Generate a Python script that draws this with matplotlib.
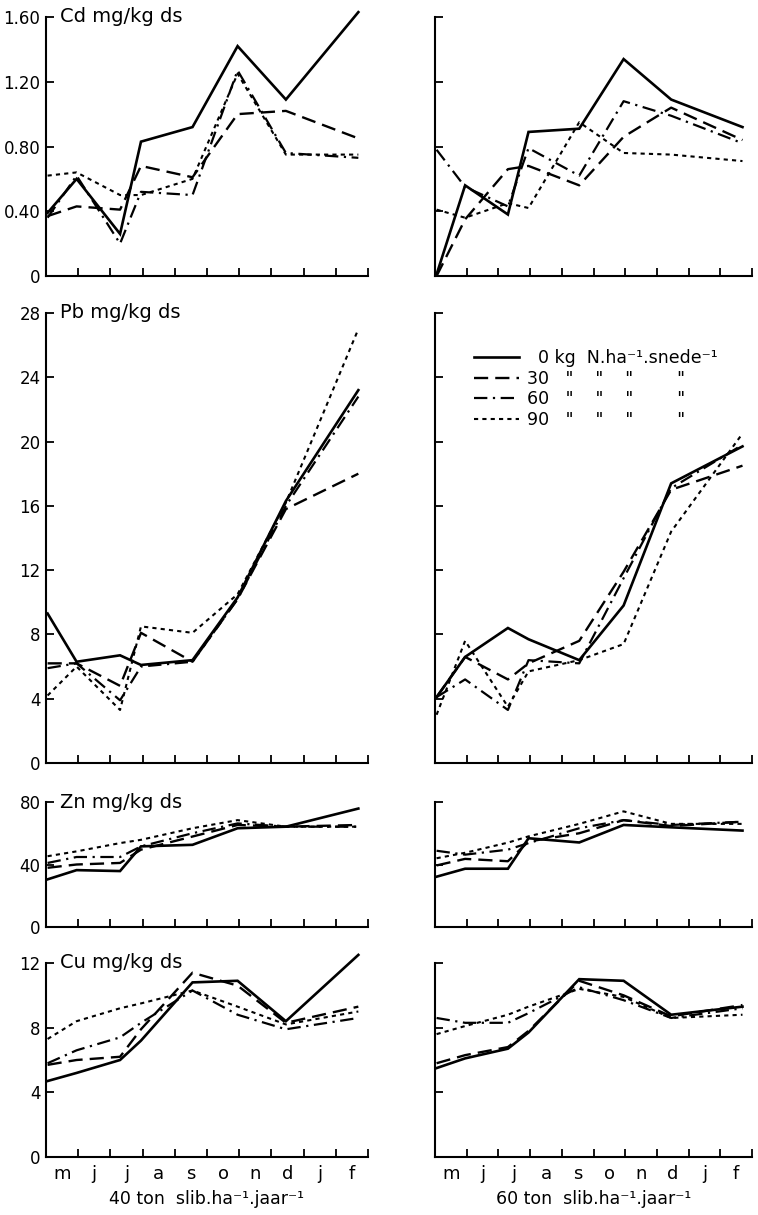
import matplotlib
matplotlib.use('Agg')
import matplotlib.pyplot as plt

# ---------------- data ----------------
months = ['m', 'j', 'j', 'a', 's', 'o', 'n', 'd', 'j', 'f']
sample_t = [0.05, 0.95, 2.3, 2.95, 4.55, 5.95, 7.45, 9.7]   # sampling moments (months from start of May)

# Cd (mg/kg ds) -- 40 ton
cd40_n0 = [0.39, 0.60, 0.26, 0.83, 0.92, 1.42, 1.09, 1.63]
cd40_n30 = [0.37, 0.43, 0.41, 0.68, 0.61, 1.00, 1.02, 0.85]
cd40_n60 = [0.36, 0.62, 0.20, 0.52, 0.50, 1.27, 0.76, 0.73]
cd40_n90 = [0.62, 0.64, 0.50, 0.50, 0.60, 1.25, 0.75, 0.75]
# Cd -- 60 ton
cd60_n0 = [0.01, 0.56, 0.38, 0.89, 0.91, 1.34, 1.09, 0.92]
cd60_n30 = [0.00, 0.35, 0.66, 0.68, 0.56, 0.86, 1.04, 0.84]
cd60_n60 = [0.78, 0.55, 0.43, 0.79, 0.62, 1.08, 0.99, 0.82]
cd60_n90 = [0.41, 0.36, 0.45, 0.42, 0.95, 0.76, 0.75, 0.71]

# Pb (mg/kg ds)
pb40_n0 = [9.3, 6.3, 6.7, 6.1, 6.4, 10.3, 16.3, 23.2]
pb40_n30 = [6.2, 6.2, 4.8, 8.1, 6.3, 10.2, 15.8, 18.0]
pb40_n60 = [5.9, 6.2, 3.9, 6.0, 6.3, 10.2, 16.0, 22.8]
pb40_n90 = [4.2, 6.0, 3.3, 8.5, 8.1, 10.5, 16.2, 27.0]
pb60_n0 = [4.1, 6.6, 8.4, 7.7, 6.4, 9.8, 17.4, 19.7]
pb60_n30 = [4.1, 6.6, 5.2, 6.2, 7.6, 11.9, 17.0, 18.5]
pb60_n60 = [4.1, 5.2, 3.3, 6.4, 6.2, 11.5, 17.1, 19.8]
pb60_n90 = [3.0, 7.6, 3.5, 5.7, 6.4, 7.4, 14.4, 20.5]

# Zn (mg/kg ds)
zn40_n0 = [30.5, 36.4, 35.8, 51.6, 52.6, 63.2, 64.2, 75.8]
zn40_n30 = [37.9, 40.0, 41.0, 49.5, 57.9, 65.3, 64.2, 65.3]
zn40_n60 = [41.0, 44.8, 44.8, 51.6, 60.0, 66.3, 64.2, 64.2]
zn40_n90 = [45.3, 48.4, 53.7, 55.8, 63.2, 68.4, 64.2, 64.2]
zn60_n0 = [32.2, 37.3, 37.3, 56.8, 54.1, 65.3, 63.8, 61.7]
zn60_n30 = [39.4, 43.6, 42.1, 54.7, 60.0, 68.4, 64.6, 67.4]
zn60_n60 = [48.8, 46.3, 49.5, 53.7, 63.2, 68.4, 65.3, 67.4]
zn60_n90 = [44.0, 47.5, 54.0, 58.0, 66.0, 74.0, 66.0, 66.0]

# Cu (mg/kg ds)
cu40_n0 = [4.7, 5.2, 6.0, 7.2, 10.8, 10.9, 8.4, 12.5]
cu40_n30 = [5.7, 6.0, 6.2, 7.9, 11.4, 10.6, 8.3, 9.3]
cu40_n60 = [5.8, 6.6, 7.4, 8.3, 10.3, 8.8, 7.9, 8.6]
cu40_n90 = [7.3, 8.4, 9.2, 9.5, 10.3, 9.3, 8.2, 9.0]
cu60_n0 = [5.5, 6.1, 6.7, 7.7, 11.0, 10.9, 8.8, 9.3]
cu60_n30 = [5.8, 6.3, 6.8, 7.8, 10.9, 10.0, 8.7, 9.4]
cu60_n60 = [8.6, 8.3, 8.3, 8.9, 10.5, 9.7, 8.6, 9.2]
cu60_n90 = [7.6, 8.1, 8.8, 9.3, 10.4, 9.9, 8.6, 8.8]

elements = ['Cd', 'Pb', 'Zn', 'Cu']
y_max = [1.60, 28, 80, 12]
y_ticks = [[0, 0.4, 0.8, 1.2, 1.6], [0, 4, 8, 12, 16, 20, 24, 28], [0, 40, 80], [0, 4, 8, 12]]
y_ticklabels = [['0', '0.40', '0.80', '1.20', '1.60'],
                ['0', '4', '8', '12', '16', '20', '24', '28'],
                ['0', '40', '80'], ['0', '4', '8', '12']]
dose_labels = ['\u20070 kg  N.ha\u207b\u00b9.snede\u207b\u00b9',
               '30   "    "    "        "',
               '60   "    "    "        "',
               '90   "    "    "        "']
col_titles = ['40 ton  slib.ha\u207b\u00b9.jaar\u207b\u00b9', '60 ton  slib.ha\u207b\u00b9.jaar\u207b\u00b9']

series = {
    (0, 0): [cd40_n0, cd40_n30, cd40_n60, cd40_n90],
    (0, 1): [cd60_n0, cd60_n30, cd60_n60, cd60_n90],
    (1, 0): [pb40_n0, pb40_n30, pb40_n60, pb40_n90],
    (1, 1): [pb60_n0, pb60_n30, pb60_n60, pb60_n90],
    (2, 0): [zn40_n0, zn40_n30, zn40_n60, zn40_n90],
    (2, 1): [zn60_n0, zn60_n30, zn60_n60, zn60_n90],
    (3, 0): [cu40_n0, cu40_n30, cu40_n60, cu40_n90],
    (3, 1): [cu60_n0, cu60_n30, cu60_n60, cu60_n90],
}

# ---------------- styling ----------------
plt.rcParams['font.family'] = ['DejaVu Sans']
W, H = 758, 1215
fig = plt.figure(figsize=(W / 100, H / 100), dpi=100)
fig.patch.set_facecolor('white')

styles = [
    dict(linestyle='-', linewidth=1.9),
    dict(linestyle=(0, (6, 3)), linewidth=1.7),
    dict(linestyle=(0, (6, 2.5, 1, 2.5)), linewidth=1.6),
    dict(linestyle=(0, (2, 2)), linewidth=1.5),
]

col_x = [(46, 368), (435, 752)]
row_y = [(17, 276), (313, 763), (802, 927), (963, 1157)]


def rect(x0, x1, yt, yb):
    return [x0 / W, 1 - yb / H, (x1 - x0) / W, (yb - yt) / H]


axes = {}
for r in range(4):
    for c in range(2):
        ax = fig.add_axes(rect(col_x[c][0], col_x[c][1], row_y[r][0], row_y[r][1]))
        axes[(r, c)] = ax
        lines = []
        for k, vals in enumerate(series[(r, c)]):
            ln, = ax.plot(sample_t, vals, color='black', clip_on=False,
                          solid_joinstyle='miter', label=dose_labels[k], **styles[k])
            lines.append(ln)
        ax.set_xlim(0, 10)
        ax.set_ylim(0, y_max[r])
        for s in ['top', 'right']:
            ax.spines[s].set_visible(False)
        for s in ['left', 'bottom']:
            ax.spines[s].set_linewidth(1.5)
        ax.set_xticks(range(11))
        ax.set_xticklabels([])
        ax.set_yticks(y_ticks[r])
        if c == 0:
            ax.set_yticklabels(y_ticklabels[r], fontsize=12)
            ax.text(0.045, 1.0, f'{elements[r]} mg/kg ds', transform=ax.transAxes,
                    fontsize=14, va='center', ha='left')
        else:
            ax.set_yticklabels([])
        ax.tick_params(axis='both', which='major', direction='in', length=6, width=1.3, pad=4)
        if r == 3:
            ax.set_xticks([i + 0.5 for i in range(10)], minor=True)
            ax.set_xticklabels(months, minor=True, fontsize=13)
            ax.tick_params(axis='x', which='minor', length=0, pad=6)
            ax.set_xlabel(col_titles[c], fontsize=12.5, labelpad=5)
        if (r, c) == (1, 1):
            ax.legend(handles=lines, loc='upper left', bbox_to_anchor=(0.1, 0.935),
                      frameon=False, fontsize=12.5, handlelength=2.6, handletextpad=0.5,
                      labelspacing=0.15, borderaxespad=0)

fig.savefig('out.png', dpi=100, facecolor='white')
